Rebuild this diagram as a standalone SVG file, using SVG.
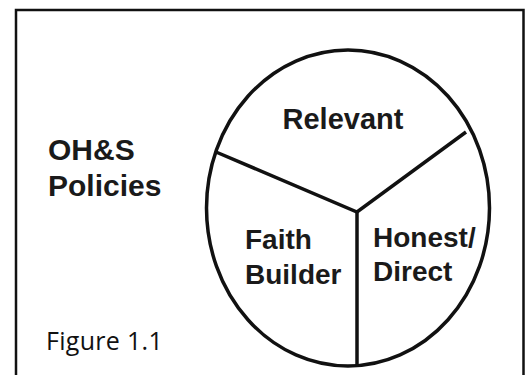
<svg xmlns="http://www.w3.org/2000/svg" width="526" height="375" viewBox="0 0 526 375">
<style>
.b{font-family:"Liberation Sans",Arial,sans-serif;font-weight:bold;font-size:28px;fill:#1a1a1a}
.t{font-size:30px}
.r{font-family:"Open Sans","Liberation Sans",sans-serif;font-size:25px;letter-spacing:0.3px;fill:#111}
.ln{fill:none;stroke:#111;stroke-width:3.5}
</style>
<rect x="16" y="10" width="507.5" height="380" fill="#fff" stroke="#111" stroke-width="2.5"/>
<g id="title"><text class="b t" x="48" y="160">OH&amp;S</text><text class="b t" x="48" y="196">Policies</text></g>
<g id="pie"><ellipse class="ln" cx="348" cy="208" rx="141.5" ry="158"/></g>
<g id="connectors">
<polyline class="ln" points="216,152 357,212 466,132"/>
<line class="ln" x1="357" y1="212" x2="357" y2="367"/>
</g>
<g id="relevant"><text class="b" x="343" y="129" text-anchor="middle" style="font-size:29px">Relevant</text></g>
<g id="faith"><text class="b" x="245" y="249">Faith</text><text class="b" x="245" y="284">Builder</text></g>
<g id="honest"><text class="b" x="373" y="247">Honest/</text><text class="b" x="373" y="281">Direct</text></g>
<g id="figure"><text class="r" x="46" y="350">Figure 1.1</text></g>
</svg>
